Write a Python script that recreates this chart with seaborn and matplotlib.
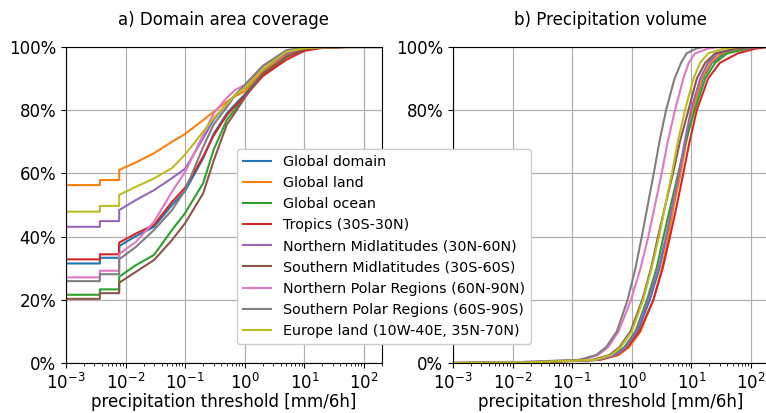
import numpy as np
import pandas as pd
import matplotlib
matplotlib.use("Agg")
import matplotlib.pyplot as plt
from matplotlib.ticker import PercentFormatter
import seaborn as sns

# SECTION - DATA
regions = [
    "Global domain",
    "Global land",
    "Global ocean",
    "Tropics (30S-30N)",
    "Northern Midlatitudes (30N-60N)",
    "Southern Midlatitudes (30S-60S)",
    "Northern Polar Regions (60N-90N)",
    "Southern Polar Regions (60S-90S)",
    "Europe land (10W-40E, 35N-70N)",
]

# a) fraction of domain area with precipitation below threshold [%]
area_thresholds = [0.001, 0.0037, 0.0037, 0.0078, 0.0078, 0.015, 0.03, 0.06, 0.1,
                   0.2, 0.3, 0.5, 0.7, 1, 2, 5, 10, 20, 50, 200]
area_global = [31.5, 31.5, 33.3, 33.3, 37.0, 40.2, 43.1, 50.0, 54.5, 64.8, 72.5, 79.0, 82.0, 85.0, 92.0, 97.0, 99.3, 99.8, 100, 100]
area_land = [56.3, 56.3, 57.9, 57.9, 61.1, 63.5, 66.4, 70.0, 72.5, 76.9, 79.5, 82.7, 84.5, 86.0, 92.5, 97.5, 99.4, 99.8, 100, 100]
area_ocean = [21.6, 21.6, 23.3, 23.3, 27.3, 31.0, 34.2, 42.1, 47.5, 56.9, 67.5, 77.0, 80.5, 84.5, 91.0, 96.8, 99.2, 99.8, 100, 100]
area_tropics = [32.8, 32.8, 34.4, 34.4, 38.1, 41.0, 43.7, 51.0, 55.5, 65.3, 72.0, 78.5, 81.5, 84.5, 90.8, 96.0, 98.8, 99.7, 100, 100]
area_nmid = [43.1, 43.1, 44.9, 44.9, 48.4, 51.6, 54.7, 58.5, 61.5, 71.1, 77.0, 82.0, 85.0, 87.0, 93.0, 98.0, 99.6, 99.9, 100, 100]
area_smid = [20.3, 20.3, 22.1, 22.1, 25.4, 28.9, 32.6, 38.9, 44.3, 53.7, 64.0, 75.5, 79.5, 84.0, 91.5, 97.0, 99.4, 99.8, 100, 100]
area_npolar = [27.1, 27.1, 29.2, 29.2, 34.5, 38.4, 44.7, 54.2, 60.5, 72.2, 79.0, 84.0, 86.5, 88.0, 94.0, 98.8, 99.8, 100, 100, 100]
area_spolar = [25.9, 25.9, 28.1, 28.1, 32.8, 36.8, 42.1, 48.4, 54.7, 68.4, 75.5, 81.0, 85.0, 88.0, 94.0, 99.0, 99.8, 100, 100, 100]
area_europe = [47.9, 47.9, 49.7, 49.7, 53.2, 55.8, 58.4, 61.7, 66.0, 73.2, 77.5, 82.0, 85.0, 87.0, 93.0, 98.5, 99.6, 99.9, 100, 100]

# b) threshold [mm/6h] below which a given share of the precipitation volume falls
volume_levels = [0, 0.2, 1, 2.5, 5, 10, 20, 30, 40, 50, 60, 70, 80, 90, 95, 98, 99.5, 100]
vol_global = [0.001, 0.02, 0.28, 0.55, 0.8, 1.25, 2.0, 2.9, 3.8, 4.9, 6.3, 8.0, 10.5, 15.5, 22, 35, 75, 160]
vol_land = [0.001, 0.025, 0.3, 0.6, 0.9, 1.4, 2.3, 3.2, 4.1, 5.1, 6.6, 8.2, 10.5, 15, 21, 32, 70, 150]
vol_ocean = [0.001, 0.02, 0.26, 0.5, 0.75, 1.15, 1.8, 2.6, 3.4, 4.5, 6.0, 8.0, 11.3, 17, 25, 40, 90, 180]
vol_tropics = [0.001, 0.025, 0.28, 0.56, 0.85, 1.35, 2.3, 3.3, 4.37, 5.7, 7.3, 9.3, 12.3, 19, 30, 60, 120, 200]
vol_nmid = [0.001, 0.02, 0.27, 0.53, 0.8, 1.2, 1.9, 2.8, 3.75, 4.8, 6.2, 7.7, 9.8, 14, 19, 28, 60, 130]
vol_smid = [0.001, 0.018, 0.22, 0.42, 0.62, 0.95, 1.5, 2.1, 2.75, 3.65, 4.9, 6.4, 8.9, 12.3, 17, 25, 55, 100]
vol_npolar = [0.001, 0.01, 0.15, 0.27, 0.40, 0.60, 0.97, 1.4, 1.89, 2.45, 3.16, 4.0, 5.3, 7.3, 9.0, 11.5, 19, 30]
vol_spolar = [0.001, 0.01, 0.13, 0.25, 0.37, 0.56, 0.85, 1.15, 1.47, 1.85, 2.33, 2.9, 3.75, 5.2, 6.7, 8.3, 12, 16]
vol_europe = [0.001, 0.02, 0.24, 0.45, 0.65, 1.0, 1.55, 2.15, 2.86, 3.65, 4.7, 5.9, 7.8, 10.8, 14, 19, 35, 60]

area_series = [area_global, area_land, area_ocean, area_tropics, area_nmid,
               area_smid, area_npolar, area_spolar, area_europe]
vol_series = [vol_global, vol_land, vol_ocean, vol_tropics, vol_nmid,
              vol_smid, vol_npolar, vol_spolar, vol_europe]

# !SECTION

# SECTION - TABLES
df_area = pd.concat(
    [pd.DataFrame({"threshold": area_thresholds, "share": vals, "region": name})
     for name, vals in zip(regions, area_series)],
    ignore_index=True,
)
df_vol = pd.concat(
    [pd.DataFrame({"threshold": vals, "share": volume_levels, "region": name})
     for name, vals in zip(regions, vol_series)],
    ignore_index=True,
)
# !SECTION

# SECTION - PLOT
plt.rcParams["font.size"] = 12
palette = sns.color_palette("tab10", len(regions))

W, H = 766, 413
fig = plt.figure(figsize=(W / 100, H / 100), dpi=100)
ax1 = fig.add_axes([66 / W, 50 / H, 316 / W, 316 / H])
ax2 = fig.add_axes([453 / W, 50 / H, 316 / W, 316 / H])

sns.lineplot(data=df_area, x="threshold", y="share", hue="region", hue_order=regions,
             palette=palette, estimator=None, sort=False, legend=False, ax=ax1, lw=1.5)
sns.lineplot(data=df_vol, x="threshold", y="share", hue="region", hue_order=regions,
             palette=palette, estimator=None, sort=False, legend=False, ax=ax2, lw=1.5)

for ax, title in zip([ax1, ax2], ["a) Domain area coverage", "b) Precipitation volume"]):
    ax.set_xscale("log")
    ax.set_xlim(1e-3, 200)
    ax.set_ylim(0, 100)
    ax.set_yticks([0, 20, 40, 60, 80, 100])
    ax.yaxis.set_major_formatter(PercentFormatter(100, decimals=0))
    ax.grid(True, which="major", color="#b0b0b0", lw=0.9)
    ax.set_xlabel("precipitation threshold [mm/6h]", labelpad=0)
    ax.set_ylabel("")
    ax.set_title(title, fontsize=12, pad=16)

# legend sits on top of both panels, as in the original figure
fig.legend(handles=ax1.get_lines()[:len(regions)], labels=regions, fontsize=10.3,
           loc="upper left", bbox_to_anchor=(237 / W, 1 - 149 / H),
           borderaxespad=0, labelspacing=0.5, framealpha=1)

plt.savefig("out.png", dpi=100)
# !SECTION
